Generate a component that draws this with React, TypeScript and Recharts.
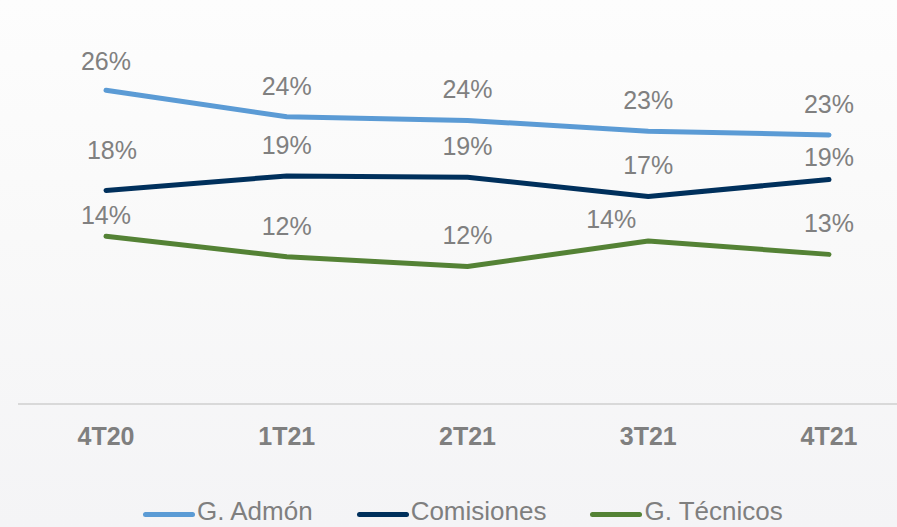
import { LineChart, Line, XAxis, YAxis, Legend, LabelList } from 'recharts'

const quarters = ['4T20', '1T21', '2T21', '3T21', '4T21']
const admon = [26.0, 23.8, 23.5, 22.6, 22.3]
const comisiones = [17.7, 18.9, 18.8, 17.2, 18.6]
const tecnicos = [13.9, 12.2, 11.4, 13.5, 12.4]
const admonLabels = ['26%', '24%', '24%', '23%', '23%']
const comisionesLabels = ['18%', '19%', '19%', '17%', '19%']
const tecnicosLabels = ['14%', '12%', '12%', '14%', '13%']

const data = quarters.map((q, i) => ({
  q,
  admon: admon[i],
  comisiones: comisiones[i],
  tecnicos: tecnicos[i],
}))

// label nudges (dx, dy) where the slide moved a label by hand
const nudges: Record<string, Record<number, [number, number]>> = {
  admon: { 0: [0, 2] },
  comisiones: { 0: [6, -9], 4: [0, 8] },
  tecnicos: { 0: [0, 10], 3: [-37, 9] },
}

const series = [
  { key: 'admon', name: 'G. Admón', color: '#5b9bd5', labels: admonLabels },
  { key: 'comisiones', name: 'Comisiones', color: '#00305c', labels: comisionesLabels },
  { key: 'tecnicos', name: 'G. Técnicos', color: '#548235', labels: tecnicosLabels },
]

const font = '"Liberation Sans", Arial, sans-serif'

const makeLabel = (key: string, labels: string[]) => (props: any) => {
  const { x, y, index } = props
  const [dx, dy] = nudges[key][index] || [0, 0]
  return (
    <text
      x={x + dx}
      y={y - 31 + dy + 9}
      textAnchor="middle"
      fill="#808080"
      fontSize={25}
      fontFamily={font}
    >
      {labels[index]}
    </text>
  )
}

const LegendContent = () => (
  <div style={{ display: 'flex', marginLeft: 125, paddingTop: 14, fontFamily: font, fontSize: 26, color: '#7f7f7f', lineHeight: '30px' }}>
    {series.map((s, i) => (
      <div key={s.key} style={{ display: 'flex', alignItems: 'center', marginLeft: i === 0 ? 0 : 44 }}>
        <span style={{ display: 'inline-block', width: 52, height: 5, borderRadius: 3, background: s.color, marginRight: 2, marginTop: 6 }} />
        <span>{s.name}</span>
      </div>
    ))}
  </div>
)

export default function App() {
  return (
    <div
      style={{
        position: 'absolute',
        left: 0,
        top: 0,
        width: 897,
        height: 527,
        overflow: 'hidden',
        background: 'linear-gradient(#fdfdfd 0%, #f9f9f9 45%, #f4f4f6 100%)',
      }}
    >
      <LineChart width={897} height={527} data={data} margin={{ top: 42, right: 0, left: 18, bottom: 0 }}>
        <XAxis
          dataKey="q"
          height={78}
          padding={{ left: 88, right: 68 }}
          tickLine={false}
          tickSize={0}
          tickMargin={23}
          axisLine={{ stroke: '#d9d9d9', strokeWidth: 2 }}
          tick={{ fill: '#7f7f7f', fontSize: 25, fontWeight: 'bold', fontFamily: font }}
        />
        <YAxis hide domain={[0, 30]} />
        <Legend verticalAlign="bottom" wrapperStyle={{ height: 45 }} content={<LegendContent />} />
        {series.map((s) => (
          <Line
            key={s.key}
            dataKey={s.key}
            name={s.name}
            stroke={s.color}
            strokeWidth={5}
            strokeLinecap="round"
            strokeLinejoin="round"
            dot={false}
            activeDot={false}
            isAnimationActive={false}
          >
            <LabelList dataKey={s.key} content={makeLabel(s.key, s.labels)} />
          </Line>
        ))}
      </LineChart>
    </div>
  )
}
